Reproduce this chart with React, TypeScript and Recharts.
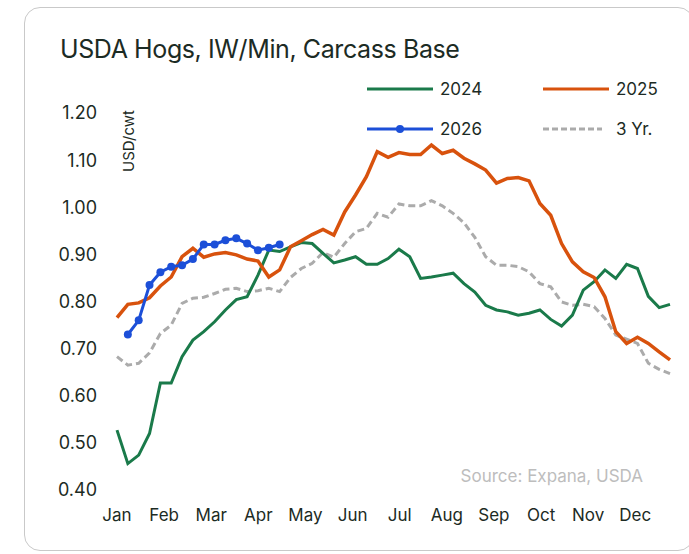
import React from 'react';
import { LineChart, Line, XAxis, YAxis, Legend } from 'recharts';

const weeks = [0,1,2,3,4,5,6,7,8,9,10,11,12,13,14,15,16,17,18,19,20,21,22,23,24,25,26,27,28,29,30,31,32,33,34,35,36,37,38,39,40,41,42,43,44,45,46,47,48,49,50,51];
const monthLabels = ['Jan','Feb','Mar','Apr','May','Jun','Jul','Aug','Sep','Oct','Nov','Dec'];
const monthTicks = [0, 4.35, 8.69, 13.04, 17.38, 21.73, 26.07, 30.42, 34.76, 39.11, 43.45, 47.8];
const yTicks = [0.4, 0.5, 0.6, 0.7, 0.8, 0.9, 1.0, 1.1, 1.2];

const s2024 = [0.527,0.456,0.474,0.520,0.627,0.627,0.683,0.718,0.736,0.757,0.782,0.804,0.810,0.856,0.909,0.906,0.916,0.925,0.923,0.902,0.882,0.888,0.895,0.879,0.879,0.891,0.911,0.895,0.849,0.852,0.856,0.860,0.838,0.820,0.792,0.782,0.778,0.771,0.775,0.782,0.762,0.748,0.771,0.824,0.842,0.867,0.849,0.879,0.870,0.811,0.787,0.794];
const s2025 = [0.766,0.794,0.797,0.808,0.833,0.852,0.895,0.913,0.894,0.901,0.904,0.899,0.890,0.886,0.852,0.867,0.916,0.929,0.942,0.953,0.941,0.990,1.026,1.065,1.118,1.106,1.116,1.112,1.112,1.132,1.114,1.121,1.104,1.092,1.079,1.051,1.061,1.063,1.056,1.008,0.983,0.923,0.884,0.863,0.851,0.810,0.736,0.711,0.724,0.711,0.693,0.676];
const s2026 = [null,0.730,0.760,0.835,0.862,0.874,0.877,0.890,0.921,0.921,0.930,0.934,0.923,0.909,0.914,0.921];
const s3yr = [0.683,0.665,0.669,0.691,0.732,0.750,0.796,0.807,0.809,0.817,0.826,0.828,0.821,0.823,0.828,0.821,0.851,0.870,0.881,0.904,0.894,0.923,0.948,0.955,0.987,0.979,1.007,1.003,1.003,1.014,1.003,0.987,0.967,0.936,0.895,0.877,0.877,0.874,0.863,0.838,0.831,0.799,0.792,0.794,0.789,0.764,0.729,0.720,0.711,0.669,0.656,0.647];

const data = weeks.map((w, i) => ({
  w,
  y2024: s2024[i],
  y2025: s2025[i],
  y2026: i < s2026.length ? s2026[i] : null,
  y3: s3yr[i],
}));

const GREEN = '#1a7a4a';
const ORANGE = '#d8520d';
const BLUE = '#1c4fd8';
const GRAY = '#ababab';
const TEXT = '#1c2b24';
const FONT = 'Inter, "Noto Sans", sans-serif';

const BlueDot = (props: any) => {
  const { cx, cy, value, index } = props;
  if (value == null || cx == null || cy == null) return <g key={index} />;
  return <circle key={index} cx={cx} cy={cy} r={4} fill={BLUE} />;
};

const LegendItem = ({ color, label, dashed, dot, left, top }: any) => (
  <div style={{ position: 'absolute', left, top, height: 20, display: 'flex', alignItems: 'center' }}>
    <svg width={68} height={12} style={{ display: 'block' }}>
      <line x1={1} y1={6} x2={dashed ? 60 : 67} y2={6} stroke={color} strokeWidth={3} strokeDasharray={dashed ? '6 3' : undefined} />
      {dot && <circle cx={34} cy={6} r={4} fill={color} />}
    </svg>
    <span style={{ marginLeft: 6, fontSize: 17, color: TEXT, fontFamily: FONT }}>{label}</span>
  </div>
);

const renderLegend = () => (
  <div style={{ position: 'relative', width: 330, height: 70 }}>
    <LegendItem color={GREEN} label="2024" left={0} top={0} />
    <LegendItem color={ORANGE} label="2025" left={176} top={0} />
    <LegendItem color={BLUE} label="2026" dot left={0} top={40} />
    <LegendItem color={GRAY} label="3 Yr." dashed left={176} top={40} />
  </div>
);

export default function App() {
  return (
    <div style={{ position: 'absolute', left: 0, top: 0, width: 689, height: 554, background: '#fff', fontFamily: FONT, overflow: 'hidden' }}>
      <div style={{ position: 'absolute', left: 24, top: 7, width: 670, height: 544, border: '1.5px solid #c9c9c9', borderRadius: 16, boxSizing: 'border-box' }} />
      <div style={{ position: 'absolute', left: 60, top: 34, fontSize: 25, color: TEXT, fontFamily: FONT, letterSpacing: -0.4, whiteSpace: 'nowrap' }}>
        USDA Hogs, IW/Min, Carcass Base
      </div>
      <div style={{ position: 'absolute', left: 128, top: 141, transform: 'translate(-50%, -50%) rotate(-90deg)', fontSize: 15, color: TEXT, fontFamily: FONT, whiteSpace: 'nowrap' }}>
        USD/cwt
      </div>
      <div style={{ position: 'absolute', right: 46, top: 466, fontSize: 17, color: '#bdbdbd', fontFamily: FONT, whiteSpace: 'nowrap' }}>
        Source: Expana, USDA
      </div>
      <div style={{ position: 'absolute', left: 0, top: 0 }}>
        <LineChart width={689} height={554} data={data} margin={{ top: 113, right: 19, bottom: 34, left: 57 }}>
          <XAxis
            dataKey="w"
            type="number"
            domain={[0, 51]}
            ticks={monthTicks}
            tickFormatter={(v: number) => monthLabels[monthTicks.indexOf(v)] ?? ''}
            axisLine={false}
            tickLine={false}
            tickSize={0}
            tickMargin={19}
            height={30}
            interval={0}
            tick={{ fill: TEXT, fontSize: 17, fontFamily: FONT }}
          />
          <YAxis
            type="number"
            domain={[0.4, 1.2]}
            ticks={yTicks}
            tickFormatter={(v: number) => v.toFixed(2)}
            axisLine={false}
            tickLine={false}
            tickSize={0}
            tickMargin={20}
            width={60}
            interval={0}
            tick={{ fill: TEXT, fontSize: 18, fontFamily: FONT }}
          />
          <Legend
            layout="horizontal"
            verticalAlign="middle"
            align="center"
            content={renderLegend}
            wrapperStyle={{ position: 'absolute', left: 366, top: 79, width: 330, height: 70 }}
          />
          <Line type="linear" dataKey="y3" stroke={GRAY} strokeWidth={3} strokeDasharray="7 4" dot={false} isAnimationActive={false} />
          <Line type="linear" dataKey="y2024" stroke={GREEN} strokeWidth={3} dot={false} isAnimationActive={false} />
          <Line type="linear" dataKey="y2025" stroke={ORANGE} strokeWidth={3.5} dot={false} isAnimationActive={false} />
          <Line type="linear" dataKey="y2026" stroke={BLUE} strokeWidth={3} dot={BlueDot} isAnimationActive={false} />
        </LineChart>
      </div>
    </div>
  );
}
